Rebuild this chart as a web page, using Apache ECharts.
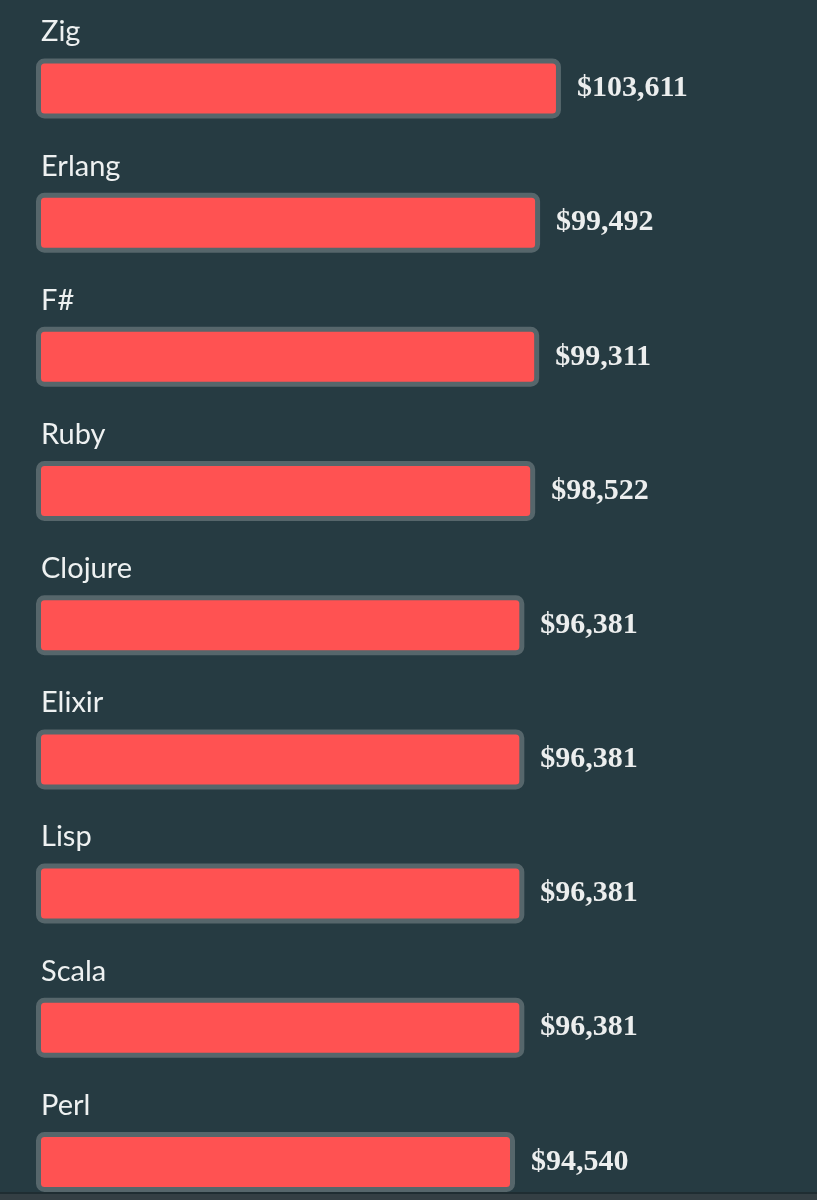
<!DOCTYPE html>
<html>
<head>
<meta charset="utf-8">
<script src="https://cdn.jsdelivr.net/npm/echarts@6/dist/echarts.min.js"></script>
<style>
  html, body { margin: 0; padding: 0; background: #263b42; overflow: hidden; }
  /* taller than the window: the last band is cut by the bottom edge like in the screenshot */
  #chart { width: 817px; height: 1229px; }
</style>
</head>
<body>
<div id="chart"></div>
<script>
var languages = ['Zig', 'Erlang', 'F#', 'Ruby', 'Clojure', 'Elixir', 'Lisp', 'Scala', 'Perl'];
var salaries = [103611, 99492, 99311, 98522, 96381, 96381, 96381, 96381, 94540];

var myChart = echarts.init(document.getElementById('chart'));

var option = {
  backgroundColor: '#263b42',
  animation: false,
  grid: {
    left: 36,
    right: 21,
    top: 21.4,
    bottom: 0
  },
  xAxis: {
    type: 'value',
    min: 0,
    max: 150000,
    show: false
  },
  yAxis: {
    type: 'category',
    data: languages,
    inverse: true,
    axisLine: { show: false },
    axisTick: { show: false },
    splitLine: { show: false },
    axisLabel: {
      inside: true,
      margin: 5,
      verticalAlign: 'bottom',
      padding: [0, 0, 42, 0],
      color: '#eef1f1',
      fontFamily: 'Lato',
      fontSize: 29,
      lineHeight: 29
    }
  },
  graphic: [
    { type: 'rect', shape: { x: 0, y: 1192, width: 817, height: 2 }, style: { fill: '#1f2d32' } },
    { type: 'rect', shape: { x: 0, y: 1194, width: 817, height: 10 }, style: { fill: '#343f44' } }
  ],
  series: [
    {
      type: 'bar',
      data: salaries,
      barWidth: 60,
      itemStyle: {
        color: '#ff5252',
        borderColor: '#56666b',
        borderWidth: 5,
        borderRadius: 6
      },
      label: {
        show: true,
        position: 'right',
        distance: 16,
        color: '#eceeee',
        fontFamily: 'Liberation Serif',
        fontWeight: 'bold',
        fontSize: 30,
        formatter: function (p) {
          return '$' + p.value.toLocaleString('en-US');
        }
      }
    }
  ]
};

myChart.setOption(option);
</script>
</body>
</html>
